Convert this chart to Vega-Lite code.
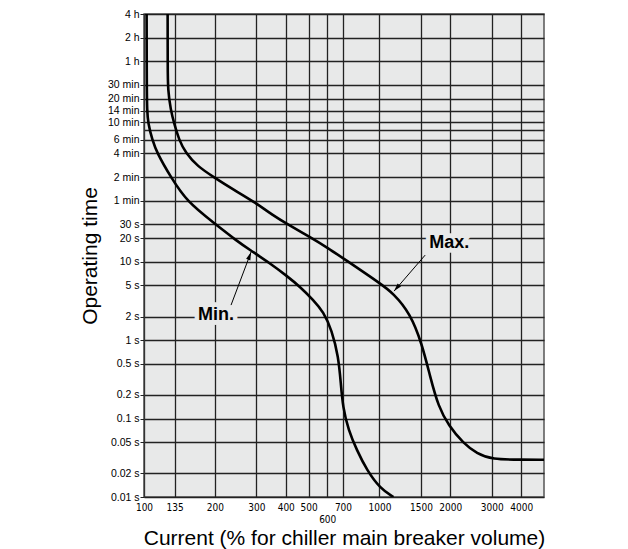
{
  "$schema": "https://vega.github.io/schema/vega-lite/v6.json",
  "width": 400,
  "height": 483,
  "autosize": "none",
  "padding": {"left": 144, "top": 14, "right": 84, "bottom": 52},
  "background": "white",
  "config": {
    "view": {"fill": "#e8e9e9", "stroke": "#555", "strokeWidth": 1.5},
    "font": "Liberation Sans"
  },
  "datasets": {
    "curves": [
      {"curve": "Min", "current": 102.6, "time": 14400},
      {"curve": "Min", "current": 102.7, "time": 3000},
      {"curve": "Min", "current": 102.8, "time": 1547},
      {"curve": "Min", "current": 103.1, "time": 858},
      {"curve": "Min", "current": 104.0, "time": 586},
      {"curve": "Min", "current": 108.5, "time": 356},
      {"curve": "Min", "current": 113.6, "time": 243},
      {"curve": "Min", "current": 129.9, "time": 120},
      {"curve": "Min", "current": 152.3, "time": 58.1},
      {"curve": "Min", "current": 198.4, "time": 31.1},
      {"curve": "Min", "current": 248.5, "time": 18.3},
      {"curve": "Min", "current": 282.2, "time": 14.1},
      {"curve": "Min", "current": 343.3, "time": 9.52},
      {"curve": "Min", "current": 404.2, "time": 6.6},
      {"curve": "Min", "current": 460.3, "time": 4.79},
      {"curve": "Min", "current": 524.2, "time": 3.24},
      {"curve": "Min", "current": 578.1, "time": 2.3},
      {"curve": "Min", "current": 627.9, "time": 1.34},
      {"curve": "Min", "current": 669.7, "time": 0.613},
      {"curve": "Min", "current": 685.5, "time": 0.28},
      {"curve": "Min", "current": 699.0, "time": 0.141},
      {"curve": "Min", "current": 738.4, "time": 0.0712},
      {"curve": "Min", "current": 801.6, "time": 0.0396},
      {"curve": "Min", "current": 884.2, "time": 0.022},
      {"curve": "Min", "current": 1007, "time": 0.01283},
      {"curve": "Min", "current": 1147, "time": 0.01},
      {"curve": "Max", "current": 126.0, "time": 14400},
      {"curve": "Max", "current": 126.1, "time": 3000},
      {"curve": "Max", "current": 126.3, "time": 1547},
      {"curve": "Max", "current": 129.9, "time": 858},
      {"curve": "Max", "current": 134.1, "time": 586},
      {"curve": "Max", "current": 140.9, "time": 356},
      {"curve": "Max", "current": 150.4, "time": 243},
      {"curve": "Max", "current": 168.5, "time": 165},
      {"curve": "Max", "current": 198.4, "time": 119},
      {"curve": "Max", "current": 241.3, "time": 81.9},
      {"curve": "Max", "current": 293.4, "time": 58.1},
      {"curve": "Max", "current": 356.8, "time": 38.2},
      {"curve": "Max", "current": 401.4, "time": 30.8},
      {"curve": "Max", "current": 504.1, "time": 20.8},
      {"curve": "Max", "current": 607.3, "time": 14.8},
      {"curve": "Max", "current": 703, "time": 11.0},
      {"curve": "Max", "current": 1007, "time": 5.29},
      {"curve": "Max", "current": 1147, "time": 3.94},
      {"curve": "Max", "current": 1351, "time": 2.19},
      {"curve": "Max", "current": 1514, "time": 0.908},
      {"curve": "Max", "current": 1643, "time": 0.34},
      {"curve": "Max", "current": 1781, "time": 0.141},
      {"curve": "Max", "current": 1964, "time": 0.0825},
      {"curve": "Max", "current": 2275, "time": 0.0481},
      {"curve": "Max", "current": 2594, "time": 0.0359},
      {"curve": "Max", "current": 3004, "time": 0.0301},
      {"curve": "Max", "current": 4000, "time": 0.0299},
      {"curve": "Max", "current": 5000, "time": 0.0298}
    ],
    "arrows": [
      {"label": "Min.", "current": 284.9, "time": 13.26, "current2": 234.3, "time2": 2.8},
      {"label": "Max.", "current": 1154, "time": 4.22, "current2": 1564, "time2": 12.14}
    ],
    "labels": [
      {"label": "Max.", "current": 1978, "time": 17.3},
      {"label": "Min.", "current": 202.3, "time": 2.085}
    ]
  },
  "encoding": {
    "x": {
      "field": "current",
      "type": "quantitative",
      "scale": {"type": "log", "domain": [100, 5000], "nice": false},
      "axis": {
        "title": "Current (% for chiller main breaker volume)",
        "values": [100, 135, 200, 300, 400, 500, 600, 700, 1000, 1500, 2000, 3000, 4000],
        "labelExpr": "'' + datum.value",
        "grid": true,
        "gridColor": "#222",
        "gridWidth": 1.3,
        "ticks": false,
        "tickSize": 0,
        "domain": false,
        "labelFont": "Liberation Sans Narrow, DejaVu Sans Condensed, Liberation Sans",
        "labelFontSize": 10,
        "labelColor": "black",
        "labelPadding": {"condition": {"test": "datum.value == 600", "value": 17}, "value": 5},
        "labelFlush": false,
        "labelOverlap": false,
        "titleFont": "Liberation Sans",
        "titleFontSize": 21,
        "titleFontWeight": "normal",
        "titleColor": "black",
        "titlePadding": 3
      }
    },
    "y": {
      "field": "time",
      "type": "quantitative",
      "scale": {"type": "log", "domain": [0.01, 14400], "nice": false},
      "axis": {
        "title": "Operating time",
        "values": [0.01, 0.02, 0.05, 0.1, 0.2, 0.5, 1, 2, 5, 10, 20, 30, 60, 120, 240, 360, 480, 600, 840, 1200, 1800, 3600, 7200, 14400],
        "labelExpr": "datum.value >= 3600 ? (datum.value/3600) + ' h' : datum.value == 480 ? '' : datum.value >= 60 ? (datum.value/60) + ' min' : datum.value + ' s'",
        "grid": true,
        "gridColor": "#222",
        "gridWidth": 1.3,
        "tickSize": 4,
        "tickColor": "#222",
        "tickOpacity": {"condition": {"test": "datum.value == 480", "value": 0}, "value": 1},
        "domainColor": "#333",
        "labelFont": "Liberation Sans",
        "labelFontSize": 10.5,
        "labelColor": "black",
        "labelPadding": 1,
        "labelFlush": false,
        "labelOverlap": false,
        "titleFont": "Liberation Sans",
        "titleFontSize": 21,
        "titleFontWeight": "normal",
        "titleColor": "black",
        "titlePadding": 7
      }
    }
  },
  "layer": [
    {
      "data": {"name": "curves"},
      "mark": {"type": "line", "interpolate": "basis", "strokeWidth": 2.6, "color": "black", "clip": true},
      "encoding": {"detail": {"field": "curve", "type": "nominal"}}
    },
    {
      "data": {"name": "arrows"},
      "mark": {"type": "rule", "color": "black", "strokeWidth": 1},
      "encoding": {
        "x2": {"field": "current2"},
        "y2": {"field": "time2"}
      }
    },
    {
      "data": {"name": "arrows"},
      "transform": [{"filter": "datum.label == 'Min.'"}],
      "mark": {"type": "point", "shape": "M0,0L0.45,1.6L-0.45,1.6Z", "angle": 20.7, "filled": true, "size": 100, "color": "black", "opacity": 1}
    },
    {
      "data": {"name": "arrows"},
      "transform": [{"filter": "datum.label == 'Max.'"}],
      "mark": {"type": "point", "shape": "M0,0L0.45,1.6L-0.45,1.6Z", "angle": 220.7, "filled": true, "size": 100, "color": "black", "opacity": 1}
    },
    {
      "data": {"name": "labels"},
      "mark": {"type": "text", "font": "Liberation Sans", "fontSize": 18, "fontWeight": "bold", "stroke": "#e8e9e9", "strokeWidth": 9, "fill": "#e8e9e9", "align": "center", "baseline": "middle"},
      "encoding": {"text": {"field": "label"}}
    },
    {
      "data": {"name": "labels"},
      "mark": {"type": "text", "font": "Liberation Sans", "fontSize": 18, "fontWeight": "bold", "color": "black", "align": "center", "baseline": "middle"},
      "encoding": {"text": {"field": "label"}}
    }
  ]
}
